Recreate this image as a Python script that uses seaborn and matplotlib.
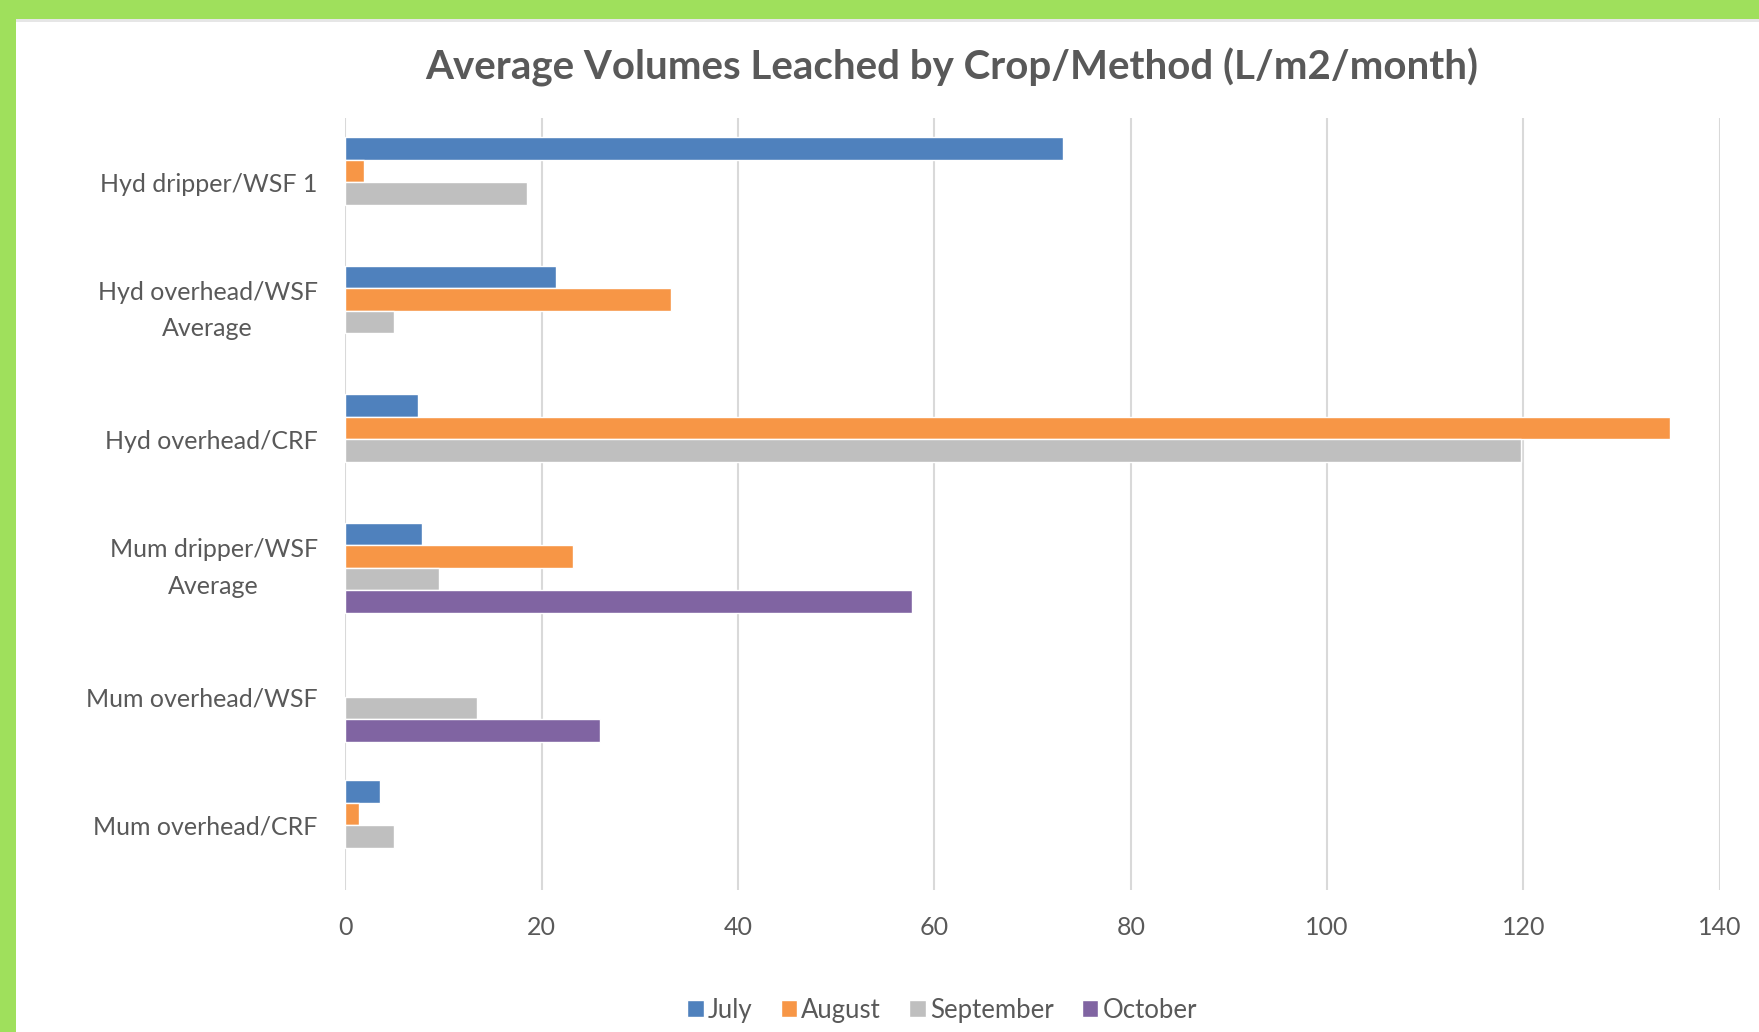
import pandas as pd
import seaborn as sns
import matplotlib.pyplot as plt
from matplotlib.patches import Rectangle

categories = ["Hyd dripper/WSF 1", "Hyd overhead/WSF\nAverage", "Hyd overhead/CRF",
              "Mum dripper/WSF\nAverage", "Mum overhead/WSF", "Mum overhead/CRF"]
months = ["July", "August", "September", "October"]
july = [73.1, 21.4, 7.4, 7.8, None, 3.5]
august = [1.9, 33.2, 134.9, 23.2, None, 1.4]
september = [18.5, 4.9, 119.8, 9.5, 13.4, 4.9]
october = [None, None, None, 57.7, 25.9, None]
colors = ["#4F81BD", "#F79646", "#BFBFBF", "#8064A2"]
xticks = [0, 20, 40, 60, 80, 100, 120, 140]

rows = []
for m, vals in zip(months, [july, august, september, october]):
    for c, v in zip(categories, vals):
        rows.append({"Crop": c, "Month": m, "Volume": v})
df = pd.DataFrame(rows)

sns.set_style("white")
plt.rcParams["font.family"] = ["Lato", "DejaVu Sans"]
txt = "#595959"

fig = plt.figure(figsize=(17.59, 10.32), dpi=100)
fig.patch.set_facecolor("#9FE05C")
# white card with green frame on top and left
fig.patches.append(Rectangle((16 / 1759, 0), 1, 1 - 19 / 1032, transform=fig.transFigure,
                             facecolor="white", edgecolor="none", zorder=-2))
fig.patches.append(Rectangle((16 / 1759, 1 - 22 / 1032), 1, 3 / 1032, transform=fig.transFigure,
                             facecolor="#E6E6E6", edgecolor="none", zorder=-1))

ax = fig.add_axes([0.1964, 0.138, 0.7813, 0.7479])
ax.set_facecolor("none")
sns.barplot(data=df, y="Crop", x="Volume", hue="Month", hue_order=months, order=categories,
            palette=colors, orient="h", width=0.7, saturation=1, ax=ax)

ax.set_xlim(0, 140)
ax.set_xticks(xticks)
ax.grid(axis="x", color="#D9D9D9", linewidth=1.5)
ax.set_axisbelow(True)
for s in ax.spines.values():
    s.set_visible(False)
ax.tick_params(axis="both", length=0, labelsize=18, labelcolor=txt)
ax.tick_params(axis="x", pad=19)
ax.tick_params(axis="y", pad=20)
for lab in ax.get_yticklabels():
    lab.set_multialignment("center")
    if "\n" in lab.get_text():
        lab.set_linespacing(1.7)
        lab.set_verticalalignment("center")
ax.set_xlabel("")
ax.set_ylabel("")

fig.text(0.541, 0.935, "Average Volumes Leached by Crop/Method (L/m2/month)", ha="center",
         va="center", fontsize=29, fontweight="bold", color=txt)

ax.get_legend().remove()
handles, labels = ax.get_legend_handles_labels()
fig.legend(handles, labels, loc="center", bbox_to_anchor=(0.5355, 0.021), ncol=4, frameon=False,
           fontsize=18.5, labelcolor=txt, handlelength=0.65, handleheight=0.65, handletextpad=0.15,
           columnspacing=1.1)

fig.savefig("out.png", dpi=100)
